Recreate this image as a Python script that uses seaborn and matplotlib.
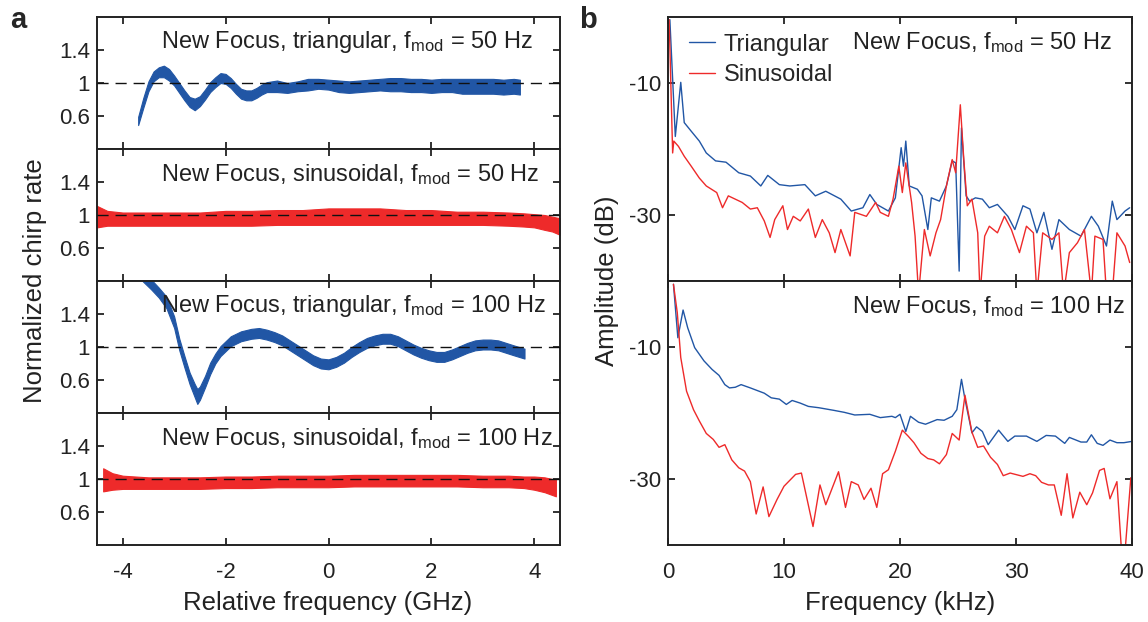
import matplotlib
matplotlib.use("Agg")
import matplotlib.pyplot as plt
import seaborn as sns
import numpy as np

# ---- panel a: normalized chirp rate (band = centre +/- half width of the noisy trace)
tri50_x = [-3.7, -3.6, -3.5, -3.4, -3.3, -3.2, -3.1, -3.0, -2.9, -2.8, -2.7, -2.6, -2.5, -2.4, -2.3,
           -2.2, -2.1, -2.0, -1.9, -1.8, -1.7, -1.6, -1.5, -1.4, -1.3, -1.2, -1.0, -0.8, -0.6, -0.4,
           -0.2, 0.0, 0.2, 0.4, 0.6, 0.8, 1.0, 1.2, 1.4, 1.6, 1.8, 2.0, 2.2, 2.4, 2.6, 2.8, 3.0,
           3.2, 3.4, 3.6, 3.72]
tri50_c = [0.54, 0.76, 0.96, 1.08, 1.13, 1.14, 1.10, 1.03, 0.94, 0.85, 0.77, 0.74, 0.78, 0.86, 0.95,
           1.01, 1.06, 1.05, 1.00, 0.93, 0.87, 0.85, 0.85, 0.88, 0.92, 0.95, 0.96, 0.94, 0.96, 0.98,
           0.99, 0.98, 0.96, 0.95, 0.96, 0.97, 0.98, 0.98, 0.98, 0.97, 0.97, 0.96, 0.97, 0.97, 0.96,
           0.96, 0.96, 0.96, 0.95, 0.96, 0.95]
tri50_hw = [0.05, 0.06, 0.06, 0.06, 0.06, 0.07, 0.07, 0.06, 0.06, 0.06, 0.06, 0.07, 0.06, 0.06, 0.06,
            0.06, 0.06, 0.06, 0.06, 0.06, 0.06, 0.06, 0.06, 0.06, 0.06, 0.06, 0.07, 0.06, 0.06, 0.07,
            0.06, 0.06, 0.07, 0.07, 0.07, 0.07, 0.07, 0.08, 0.08, 0.08, 0.08, 0.08, 0.08, 0.08, 0.09,
            0.09, 0.09, 0.09, 0.09, 0.09, 0.09]

sin50_x = [-4.5, -4.3, -4.0, -3.5, -3.0, -2.5, -2.0, -1.5, -1.0, -0.5, 0.0, 0.5, 1.0, 1.5, 2.0,
           2.5, 3.0, 3.5, 3.8, 4.0, 4.2, 4.35, 4.5]
sin50_c = [0.98, 0.96, 0.95, 0.95, 0.95, 0.95, 0.96, 0.96, 0.97, 0.97, 0.98, 0.98, 0.98, 0.97, 0.97,
           0.96, 0.96, 0.95, 0.94, 0.93, 0.91, 0.89, 0.86]
sin50_hw = [0.13, 0.09, 0.08, 0.08, 0.08, 0.08, 0.09, 0.09, 0.09, 0.09, 0.10, 0.10, 0.10, 0.09, 0.09,
            0.08, 0.08, 0.08, 0.08, 0.08, 0.09, 0.09, 0.10]

tri100_x = [-3.75, -3.6, -3.45, -3.3, -3.15, -3.0, -2.9, -2.8, -2.7, -2.6, -2.55, -2.5, -2.4, -2.3,
            -2.2, -2.1, -2.0, -1.9, -1.7, -1.5, -1.35, -1.2, -1.05, -0.9, -0.75, -0.6, -0.45, -0.3,
            -0.15, 0.0, 0.15, 0.3, 0.45, 0.6, 0.75, 0.9, 1.05, 1.2, 1.35, 1.5, 1.65, 1.8, 1.95, 2.1,
            2.25, 2.4, 2.55, 2.7, 2.85, 3.0, 3.15, 3.3, 3.45, 3.6, 3.81]
tri100_c = [1.95, 1.85, 1.76, 1.66, 1.54, 1.30, 1.03, 0.82, 0.62, 0.47, 0.40, 0.44, 0.58, 0.74,
            0.86, 0.95, 1.01, 1.07, 1.13, 1.16, 1.17, 1.15, 1.12, 1.08, 1.02, 0.96, 0.90, 0.84,
            0.80, 0.79, 0.82, 0.87, 0.94, 1.00, 1.05, 1.08, 1.10, 1.10, 1.07, 1.02, 0.97, 0.93, 0.90,
            0.88, 0.88, 0.91, 0.95, 0.99, 1.02, 1.03, 1.03, 1.02, 0.99, 0.96, 0.92]
tri100_hw = [0.06, 0.06, 0.06, 0.06, 0.07, 0.07, 0.07, 0.07, 0.07, 0.08, 0.09, 0.08, 0.07, 0.07,
             0.06, 0.06, 0.06, 0.06, 0.06, 0.06, 0.06, 0.06, 0.06, 0.06, 0.06, 0.06, 0.06, 0.06,
             0.06, 0.06, 0.06, 0.06, 0.06, 0.06, 0.06, 0.06, 0.06, 0.06, 0.06, 0.06, 0.06, 0.06, 0.06,
             0.06, 0.06, 0.06, 0.06, 0.06, 0.06, 0.06, 0.06, 0.06, 0.06, 0.06, 0.06]

sin100_x = [-4.38, -4.2, -4.0, -3.5, -3.0, -2.5, -2.0, -1.5, -1.0, -0.5, 0.0, 0.5, 1.0, 1.5, 2.0,
            2.5, 3.0, 3.5, 3.8, 4.0, 4.2, 4.42]
sin100_c = [0.99, 0.97, 0.96, 0.95, 0.95, 0.95, 0.96, 0.96, 0.97, 0.97, 0.97, 0.98, 0.98, 0.98, 0.98,
            0.98, 0.97, 0.97, 0.96, 0.95, 0.93, 0.89]
sin100_hw = [0.14, 0.10, 0.08, 0.07, 0.07, 0.07, 0.07, 0.07, 0.07, 0.07, 0.07, 0.07, 0.07, 0.07, 0.07,
             0.07, 0.07, 0.07, 0.07, 0.08, 0.09, 0.10]

# ---- panel b: spectra (dB)
f50_tri = [0.16, 0.63, 1.1, 1.4, 2.0, 2.7, 3.3, 4.1, 5.0, 6.1, 7.1, 8.0, 8.6, 9.6, 10.5, 11.8, 12.7,
           13.6, 14.9, 15.8, 16.8, 17.4, 18.0, 19.0, 19.6, 20.1, 20.3, 20.5, 20.8, 21.5, 21.9, 22.4,
           22.7, 23.4, 24.0, 24.5, 24.8, 25.1, 25.3, 25.7, 26.0, 26.5, 27.1, 27.7, 28.4, 29.3, 29.9,
           30.6, 31.2, 31.8, 32.4, 33.1, 33.7, 34.6, 35.6, 36.5, 37.1, 37.8, 38.3, 38.7, 39.4, 39.8]
a50_tri = [-0.4, -18.1, -9.9, -16.0, -17.3, -18.8, -20.6, -21.8, -22.0, -23.6, -24.1, -25.6, -24.0,
           -25.4, -25.6, -25.4, -27.1, -26.4, -27.6, -29.4, -28.9, -26.9, -28.4, -29.4, -27.4, -19.8,
           -22.6, -18.8, -25.6, -26.1, -27.1, -32.2, -27.4, -27.9, -25.6, -21.8, -22.1, -38.5, -16.8,
           -27.1, -27.9, -27.4, -27.6, -28.9, -28.4, -30.2, -32.2, -28.6, -29.1, -32.7, -29.6, -35.2,
           -30.7, -32.2, -33.2, -30.2, -31.7, -34.7, -27.9, -30.7, -29.4, -28.9]

f50_sin = [0.1, 0.4, 0.5, 0.9, 1.4, 2.0, 2.7, 3.3, 4.2, 4.7, 5.2, 5.8, 6.4, 7.1, 7.7, 8.3, 8.8, 9.2,
           9.9, 10.3, 10.8, 11.4, 12.1, 12.7, 13.3, 13.9, 14.4, 14.9, 15.7, 16.1, 17.1, 17.9, 18.3,
           19.0, 19.4, 19.9, 20.2, 20.5, 21.0, 21.3, 21.6, 22.1, 22.6, 23.1, 23.5, 24.0, 24.5, 24.8,
           25.2, 25.5, 25.8, 26.2, 26.7, 26.9, 27.3, 27.7, 28.4, 29.0, 29.6, 30.3, 30.9, 31.5, 31.8,
           32.3, 33.1, 33.7, 34.1, 34.6, 35.3, 35.9, 36.5, 36.8, 37.5, 37.8, 38.3, 38.7, 39.4, 39.8]
a50_sin = [-0.4, -20.6, -18.8, -19.6, -21.1, -22.6, -24.4, -25.6, -26.6, -28.9, -27.1, -27.6, -28.1,
           -29.1, -28.9, -30.9, -33.4, -30.7, -28.6, -32.2, -30.2, -30.9, -29.1, -33.4, -30.7, -32.7,
           -35.7, -32.2, -36.2, -29.6, -30.2, -28.1, -29.6, -30.2, -27.6, -22.6, -26.6, -22.1, -28.1,
           -33.2, -42.0, -32.2, -36.2, -32.7, -30.7, -25.6, -21.6, -23.6, -13.3, -21.6, -28.6, -27.6,
           -32.7, -42.0, -33.2, -31.7, -32.7, -30.2, -32.2, -35.7, -31.7, -32.7, -42.0, -32.7, -33.7,
           -32.7, -42.0, -35.7, -34.2, -32.2, -42.0, -33.2, -33.7, -42.0, -42.0, -32.7, -34.7, -37.2]

f100_tri = [0.47, 0.85, 1.3, 1.7, 2.3, 3.1, 3.8, 4.4, 4.9, 5.3, 5.8, 6.3, 7.1, 8.3, 8.9, 9.6, 10.2,
            10.7, 11.4, 12.1, 13.0, 14.3, 15.2, 16.1, 17.4, 18.3, 19.3, 19.6, 20.0, 20.5, 20.9, 21.6,
            22.2, 23.2, 23.8, 24.5, 24.9, 25.3, 25.6, 26.2, 26.6, 27.1, 27.6, 28.5, 29.3, 29.9, 30.9,
            31.8, 32.6, 33.4, 34.2, 34.6, 35.6, 36.1, 36.5, 37.0, 37.5, 38.1, 38.7, 39.3, 40.0]
a100_tri = [-0.5, -8.6, -4.4, -7.1, -10.1, -12.1, -13.4, -14.3, -15.7, -16.2, -16.1, -15.7, -16.2,
            -17.0, -17.7, -17.9, -18.7, -18.1, -18.5, -19.0, -19.2, -19.6, -19.9, -20.3, -20.2, -20.7,
            -20.5, -20.7, -20.2, -22.8, -20.5, -21.4, -21.7, -21.0, -21.1, -20.5, -19.5, -14.9, -17.9,
            -23.0, -22.1, -22.8, -24.8, -22.6, -24.3, -23.5, -23.5, -24.3, -23.4, -23.5, -24.6, -23.7,
            -24.4, -24.4, -23.3, -24.6, -24.9, -24.1, -24.5, -24.5, -24.3]

f100_sin = [0.47, 0.8, 1.1, 1.6, 2.2, 2.7, 3.3, 3.9, 4.4, 4.9, 5.5, 6.1, 6.6, 7.1, 7.6, 8.2, 8.7, 9.4,
            10.0, 10.5, 11.0, 11.5, 12.5, 13.1, 13.6, 14.7, 15.3, 15.8, 16.4, 16.9, 17.5, 18.0, 18.5,
            19.0, 19.6, 20.2, 20.7, 21.2, 21.8, 22.4, 22.9, 23.4, 24.0, 24.5, 25.1, 25.6, 26.2, 26.7,
            27.2, 27.8, 28.4, 28.9, 29.5, 30.6, 31.2, 31.7, 32.2, 32.8, 33.3, 33.9, 34.4, 34.9, 35.5,
            36.1, 36.6, 37.2, 37.6, 38.1, 38.7, 39.1, 39.4, 39.9]
a100_sin = [-0.5, -4.8, -11.6, -16.7, -19.5, -21.2, -23.1, -24.0, -25.2, -24.8, -27.1, -28.3, -28.8,
            -30.4, -35.3, -31.2, -35.7, -33.1, -31.1, -30.2, -29.3, -29.1, -37.2, -30.9, -33.9, -28.9,
            -34.3, -30.4, -30.9, -33.1, -31.4, -34.3, -29.2, -28.6, -25.8, -22.6, -23.5, -24.5, -26.1,
            -26.9, -27.1, -27.7, -26.3, -23.1, -24.1, -17.3, -22.9, -25.2, -25.0, -26.7, -27.8, -29.5,
            -29.1, -29.6, -29.2, -29.5, -30.5, -30.9, -30.9, -35.5, -29.2, -35.9, -32.0, -33.9, -32.1,
            -28.7, -28.4, -33.0, -30.4, -41.0, -41.0, -29.8]

left_titles = ["New Focus, triangular, f$_{\\mathrm{mod}}$ = 50 Hz",
               "New Focus, sinusoidal, f$_{\\mathrm{mod}}$ = 50 Hz",
               "New Focus, triangular, f$_{\\mathrm{mod}}$ = 100 Hz",
               "New Focus, sinusoidal, f$_{\\mathrm{mod}}$ = 100 Hz"]
right_titles = ["New Focus, f$_{\\mathrm{mod}}$ = 50 Hz",
                "New Focus, f$_{\\mathrm{mod}}$ = 100 Hz"]

BLUE = "#2156a5"
RED = "#ee2a2a"

sns.set_theme(style="ticks")
plt.rcParams['font.family'] = ['Liberation Sans', 'DejaVu Sans']
plt.rcParams['mathtext.fontset'] = 'custom'
plt.rcParams['mathtext.rm'] = 'Liberation Sans'
plt.rcParams['mathtext.it'] = 'Liberation Sans:italic'
plt.rcParams['axes.unicode_minus'] = False

TICK = 16
ANN = 17
LAB = 18.5
W, H = 1148, 622


def style_axes(ax):
    for s in ax.spines.values():
        s.set_linewidth(1.4)
        s.set_color("#222222")
    ax.tick_params(direction="in", top=True, right=True, length=5, width=1.3,
                   labelsize=TICK, colors="#222222", pad=5)
    ax.tick_params(axis="x", pad=12)


fig = plt.figure(figsize=(W / 100, H / 100), dpi=100)

# panel a
bands = [(tri50_x, tri50_c, tri50_hw, BLUE), (sin50_x, sin50_c, sin50_hw, RED),
         (tri100_x, tri100_c, tri100_hw, BLUE), (sin100_x, sin100_c, sin100_hw, RED)]
row_h = 132
for i, (x, c, hw, col) in enumerate(bands):
    ax = fig.add_axes([97 / W, 1 - (17 + row_h * (i + 1)) / H, (560 - 97) / W, row_h / H])
    c = np.array(c)
    hw = np.array(hw)
    ax.fill_between(x, c - hw, c + hw, color=col, lw=0.8, edgecolor=col)
    ax.axhline(1, color="#111111", lw=1.0, dashes=(8, 5), zorder=3)
    ax.set_xlim(-4.5, 4.5)
    ax.set_ylim(0.2, 1.8)
    ax.set_yticks([0.6, 1, 1.4])
    ax.set_yticklabels(["0.6", "1", "1.4"])
    ax.set_xticks([-4, -2, 0, 2, 4])
    style_axes(ax)
    if i < 3:
        ax.set_xticklabels([])
    ax.text(0.138, 0.81, left_titles[i], transform=ax.transAxes, fontsize=ANN,
            ha="left", va="center", color="#222222")

# panel b
spectra = [((f50_tri, a50_tri), (f50_sin, a50_sin)), ((f100_tri, a100_tri), (f100_sin, a100_sin))]
rrow_h = 264
for i, ((ft, at), (fs, as_)) in enumerate(spectra):
    ax = fig.add_axes([668 / W, 1 - (17 + rrow_h * (i + 1)) / H, (1132 - 668) / W, rrow_h / H])
    sns.lineplot(x=ft, y=at, ax=ax, color=BLUE, lw=1.0, label="Triangular")
    sns.lineplot(x=fs, y=as_, ax=ax, color=RED, lw=1.0, label="Sinusoidal")
    ax.set_xlim(0, 40)
    ax.set_ylim(-40, 0)
    ax.set_yticks([-10, -30])
    ax.set_xticks([0, 10, 20, 30, 40])
    style_axes(ax)
    if i == 0:
        ax.set_xticklabels([])
        ax.legend(loc="upper left", frameon=False, fontsize=ANN, handlelength=1.1,
                  handletextpad=0.35, borderaxespad=0.3, labelspacing=0.35,
                  bbox_to_anchor=(0.01, 1.0))
    else:
        ax.get_legend().remove()
    ax.text(0.397, 1 - 26 / rrow_h, right_titles[i], transform=ax.transAxes, fontsize=ANN,
            ha="left", va="center", color="#222222")

fig.text(35 / W, 1 - 281 / H, "Normalized chirp rate", rotation=90, ha="center", va="center",
         fontsize=LAB, color="#222222")
fig.text(607 / W, 1 - 281 / H, "Amplitude (dB)", rotation=90, ha="center", va="center",
         fontsize=LAB, color="#222222")
fig.text(328 / W, 1 - 603 / H, "Relative frequency (GHz)", ha="center", va="center",
         fontsize=LAB, color="#222222")
fig.text(900 / W, 1 - 603 / H, "Frequency (kHz)", ha="center", va="center",
         fontsize=LAB, color="#222222")
fig.text(18 / W, 1 - 20 / H, "a", fontsize=21, fontweight="bold", ha="center", va="center")
fig.text(588 / W, 1 - 20 / H, "b", fontsize=21, fontweight="bold", ha="center", va="center")

fig.savefig("out.png", dpi=100)
